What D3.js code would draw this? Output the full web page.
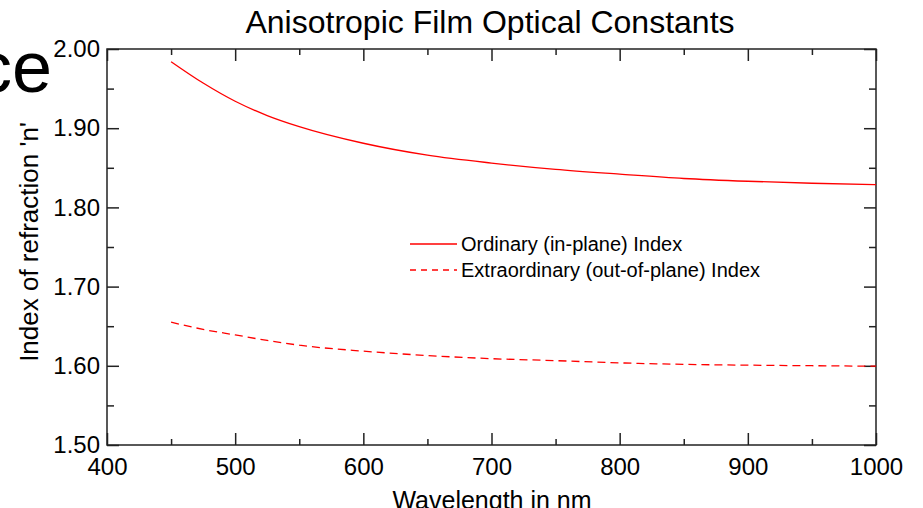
<!DOCTYPE html>
<html>
<head>
<meta charset="utf-8">
<script src="https://cdn.jsdelivr.net/npm/d3@7"></script>
<style>
  body { margin: 0; background: #fff; }
  svg { display: block; font-family: Arial, "Liberation Sans", Helvetica, sans-serif; }
</style>
</head>
<body>
<script>
// values
var wavelength = [450, 475, 500, 525, 550, 600, 650, 700, 750, 800, 850, 900, 950, 1000];
var ordinary   = [1.984, 1.957, 1.934, 1.916, 1.902, 1.881, 1.866, 1.856, 1.848, 1.842, 1.8365, 1.833, 1.8305, 1.8287];
var extraord   = [1.655, 1.646, 1.639, 1.632, 1.626, 1.6185, 1.613, 1.609, 1.6065, 1.6037, 1.6018, 1.6008, 1.6001, 1.5995];
var xTicks = [400, 500, 600, 700, 800, 900, 1000];
var yTicks = [1.50, 1.60, 1.70, 1.80, 1.90, 2.00];
var seriesNames = ['Ordinary (in-plane) Index', 'Extraordinary (out-of-plane) Index'];

let width = 923, height = 508;
let padL = 107, padR = 876, padT = 49, padB = 445;

const svg = d3.select("body")
              .append("svg")
              .attr("width", width)
              .attr("height", height);

const xScale = d3.scaleLinear().domain([400, 1000]).range([padL, padR]);
const yScale = d3.scaleLinear().domain([1.5, 2.0]).range([padB, padT]);

// leftover slide text peeking in at top left
svg.append("text")
   .attr("x", 52).attr("y", 92)
   .attr("text-anchor", "end")
   .attr("font-size", 72)
   .text("ce");

// title
svg.append("text")
   .attr("x", 490).attr("y", 33)
   .attr("text-anchor", "middle")
   .attr("font-size", 32)
   .text("Anisotropic Film Optical Constants");

// ticks on all four sides, pointing inward
const minorX = d3.range(450, 1000, 100);
const minorY = d3.range(1.55, 2.0, 0.1);

svg.append("g")
   .attr("transform", "translate(0," + padB + ")")
   .call(d3.axisBottom(xScale).tickValues(xTicks).tickSize(-12).tickPadding(13).tickFormat(d3.format("d")))
   .call(g => g.select(".domain").remove());
svg.append("g")
   .attr("transform", "translate(0," + padB + ")")
   .call(d3.axisBottom(xScale).tickValues(minorX).tickSize(-6).tickFormat(""))
   .call(g => g.select(".domain").remove());
svg.append("g")
   .attr("transform", "translate(0," + padT + ")")
   .call(d3.axisTop(xScale).tickValues(xTicks).tickSize(-12).tickFormat(""))
   .call(g => g.select(".domain").remove());
svg.append("g")
   .attr("transform", "translate(0," + padT + ")")
   .call(d3.axisTop(xScale).tickValues(minorX).tickSize(-6).tickFormat(""))
   .call(g => g.select(".domain").remove());

svg.append("g")
   .attr("transform", "translate(" + padL + ",0)")
   .call(d3.axisLeft(yScale).tickValues(yTicks).tickSize(-12).tickPadding(7).tickFormat(d3.format(".2f")))
   .call(g => g.select(".domain").remove());
svg.append("g")
   .attr("transform", "translate(" + padL + ",0)")
   .call(d3.axisLeft(yScale).tickValues(minorY).tickSize(-7).tickFormat(""))
   .call(g => g.select(".domain").remove());
svg.append("g")
   .attr("transform", "translate(" + padR + ",0)")
   .call(d3.axisRight(yScale).tickValues(yTicks).tickSize(-12).tickFormat(""))
   .call(g => g.select(".domain").remove());
svg.append("g")
   .attr("transform", "translate(" + padR + ",0)")
   .call(d3.axisRight(yScale).tickValues(minorY).tickSize(-7).tickFormat(""))
   .call(g => g.select(".domain").remove());

svg.selectAll(".tick line").attr("stroke", "#222").attr("stroke-width", 1.5);
svg.selectAll(".tick text").attr("font-size", 24).attr("fill", "#000")
   .attr("font-family", "Arial, 'Liberation Sans', sans-serif");

// frame
svg.append("rect")
   .attr("x", padL).attr("y", padT)
   .attr("width", padR - padL).attr("height", padB - padT)
   .attr("fill", "none").attr("stroke", "#222").attr("stroke-width", 1.5);

// curves
const line = d3.line()
               .x((d, i) => xScale(wavelength[i]))
               .y(d => yScale(d))
               .curve(d3.curveMonotoneX);

svg.append("path")
   .attr("d", line(ordinary))
   .attr("fill", "none").attr("stroke", "#ff0000").attr("stroke-width", 1.3);
svg.append("path")
   .attr("d", line(extraord))
   .attr("fill", "none").attr("stroke", "#ff0000").attr("stroke-width", 1.3)
   .attr("stroke-dasharray", "8,5");

// legend
const legend = svg.append("g").attr("transform", "translate(410,244)");
seriesNames.forEach((name, i) => {
  legend.append("line")
        .attr("x1", 0).attr("x2", 47)
        .attr("y1", i * 26).attr("y2", i * 26)
        .attr("stroke", "#ff0000").attr("stroke-width", 1.3)
        .attr("stroke-dasharray", i ? "6,5" : null);
  legend.append("text")
        .attr("x", 51).attr("y", i * 26 + 7)
        .attr("font-size", 20)
        .text(name);
});

// axis titles
svg.append("text")
   .attr("transform", "translate(38,242) rotate(-90)")
   .attr("text-anchor", "middle")
   .attr("font-size", 26)
   .text("Index of refraction 'n'");

svg.append("text")
   .attr("x", 492).attr("y", 509)
   .attr("text-anchor", "middle")
   .attr("font-size", 25)
   .text("Wavelength in nm");
</script>
</body>
</html>
